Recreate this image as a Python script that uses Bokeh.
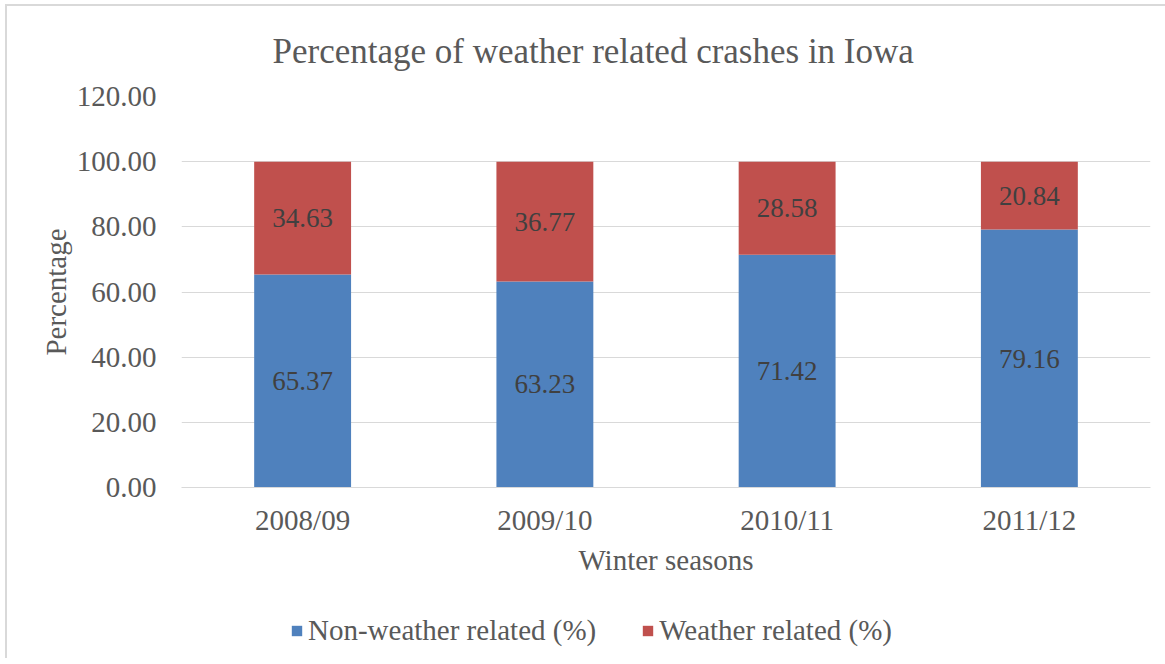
from bokeh.plotting import figure
from bokeh.layouts import column
from bokeh.models import ColumnDataSource, Legend, LegendItem, NumeralTickFormatter, Title, FactorRange, Range1d
from bokeh.core.properties import value
from bokeh.embed import file_html
from bokeh.resources import INLINE

seasons = ["2008/09", "2009/10", "2010/11", "2011/12"]
non_weather = [65.37, 63.23, 71.42, 79.16]
weather = [34.63, 36.77, 28.58, 20.84]
series_names = ["Non-weather related (%)", "Weather related (%)"]
colors = ["#4F81BD", "#C0504D"]
title_text = "Percentage of weather related crashes in Iowa"

FONT = "Liberation Serif"
GRAY = "#595959"

src = ColumnDataSource(dict(
    season=seasons,
    nw=non_weather,
    w=weather,
    top_total=[a + b for a, b in zip(non_weather, weather)],
    nw_mid=[a / 2 for a in non_weather],
    w_mid=[a + b / 2 for a, b in zip(non_weather, weather)],
    nw_lbl=["%.2f" % v for v in non_weather],
    w_lbl=["%.2f" % v for v in weather],
))

W, H1, H2 = 1158, 600, 52
p = figure(x_range=FactorRange(*seasons, range_padding=0), y_range=(0, 120),
           width=W, height=H1, output_backend="svg", toolbar_location=None,
           min_border_left=174, min_border_right=15, min_border_top=90,
           min_border_bottom=H1 - 481)
p.outline_line_color = None
p.background_fill_color = "white"
p.border_fill_color = "white"

r1 = p.vbar(x="season", top="nw", bottom=0, width=0.4, source=src,
            fill_color=colors[0], line_color=None)
r2 = p.vbar(x="season", top="top_total", bottom="nw", width=0.4, source=src,
            fill_color=colors[1], line_color=None)

p.text(x="season", y="nw_mid", text="nw_lbl", source=src, text_align="center",
       text_baseline="middle", text_font=value(FONT), text_font_size="27px",
       text_color="#404040")
p.text(x="season", y="w_mid", text="w_lbl", source=src, text_align="center",
       text_baseline="middle", text_font=value(FONT), text_font_size="27px",
       text_color="#404040")

# axes
p.yaxis.ticker = [0, 20, 40, 60, 80, 100, 120]
p.yaxis.formatter = NumeralTickFormatter(format="0.00")
for ax in (p.xaxis, p.yaxis):
    ax.major_label_text_font = FONT
    ax.major_label_text_font_size = "29px"
    ax.major_label_text_color = GRAY
    ax.axis_label_text_font = FONT
    ax.axis_label_text_font_size = "29px"
    ax.axis_label_text_color = GRAY
    ax.axis_label_text_font_style = "normal"
    ax.major_tick_line_color = None
    ax.minor_tick_line_color = None
p.yaxis.axis_line_color = None
p.xaxis.axis_line_color = "#d9d9d9"
p.yaxis.axis_label = "Percentage"
p.xaxis.axis_label = "Winter seasons"
p.yaxis.major_label_standoff = 19
p.yaxis.axis_label_standoff = 2
p.xaxis.major_label_standoff = 10
p.xaxis.axis_label_standoff = 5

p.xgrid.grid_line_color = None
p.ygrid.grid_line_color = "#d9d9d9"
p.ygrid.grid_line_width = 1

# title
t = Title(text=title_text, align="left", vertical_align="top",
          offset=91, text_font=FONT, text_font_size="35px", text_color=GRAY,
          text_font_style="normal", standoff=48)
p.add_layout(t, "above")

# legend strip (bars fall outside its visible y-range; only the legend shows)
lg = figure(width=W, height=H2, output_backend="svg", toolbar_location=None,
            x_range=FactorRange(*seasons, range_padding=0), y_range=Range1d(500, 600),
            min_border=0, x_axis_type=None, y_axis_type=None)
lg.outline_line_color = None
lg.grid.grid_line_color = None
lg.background_fill_color = "white"
lg.border_fill_color = "white"
l1 = lg.vbar(x="season", top="nw", width=0.4, source=src, fill_color=colors[0], line_color=None)
l2 = lg.vbar(x="season", top="top_total", bottom="nw", width=0.4, source=src,
             fill_color=colors[1], line_color=None)
legend = Legend(items=[LegendItem(label=series_names[0], renderers=[l1]),
                       LegendItem(label=series_names[1], renderers=[l2])],
                orientation="horizontal", location=(109, 11),
                label_text_font=FONT, label_text_font_size="29px",
                label_text_color=GRAY, glyph_width=13, glyph_height=13,
                label_standoff=5, spacing=45, padding=0, margin=0,
                border_line_color=None, background_fill_alpha=0)
lg.add_layout(legend, "center")

layout = column(p, lg, spacing=0)
layout.styles = {"border-top": "2px solid #d9d9d9", "border-left": "2px solid #d9d9d9",
                 "margin-left": "5px", "margin-top": "4px"}

open("out.html", "w").write(file_html(layout, INLINE))
